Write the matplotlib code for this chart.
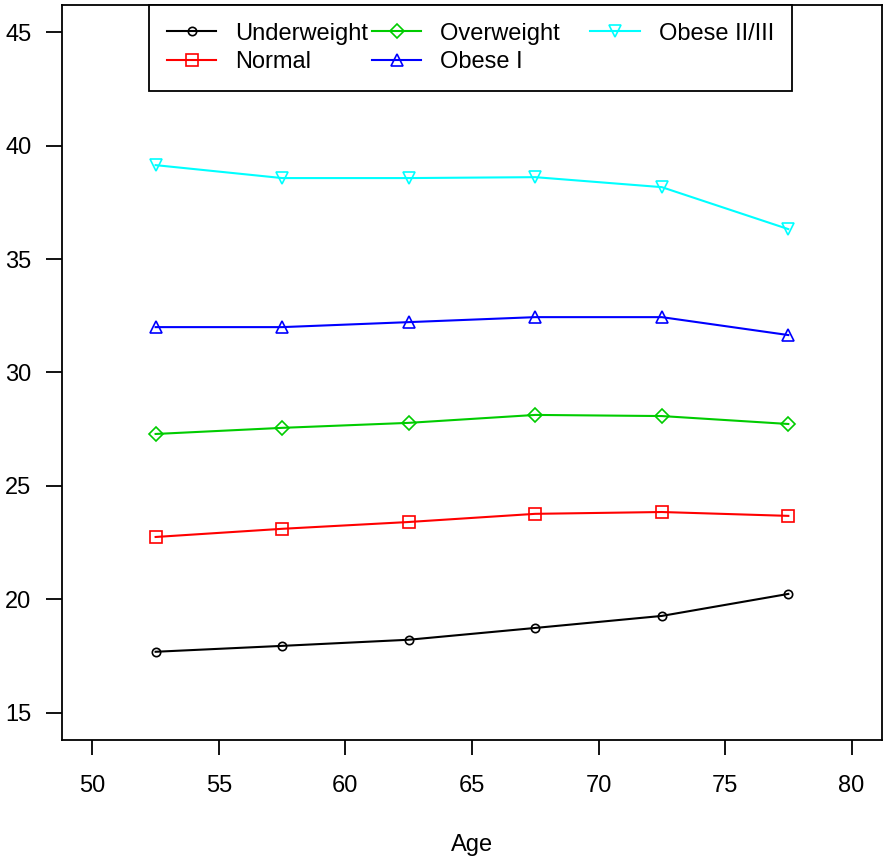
import matplotlib
matplotlib.use('Agg')
import matplotlib.pyplot as plt

plt.rcParams['font.family'] = ['Liberation Sans', 'DejaVu Sans']

# age group midpoints and mean BMI by weight class
age = [52.5, 57.5, 62.5, 67.5, 72.5, 77.5]
underweight = [17.69, 17.95, 18.22, 18.74, 19.27, 20.24]
normal = [22.75, 23.11, 23.41, 23.77, 23.85, 23.68]
overweight = [27.29, 27.56, 27.78, 28.13, 28.08, 27.73]
obese1 = [32.0, 32.0, 32.22, 32.44, 32.44, 31.65]
obese23 = [39.14, 38.57, 38.57, 38.61, 38.17, 36.32]

labels = ['Underweight', 'Normal', 'Overweight', 'Obese I', 'Obese II/III']
colors = ['black', 'red', '#00cc00', 'blue', 'cyan']
markers = ['o', 's', 'D', '^', 'v']
sizes = [6, 8, 7, 9, 9]

fig = plt.figure(figsize=(8.84, 8.57), dpi=100)
ax = fig.add_axes([0.0701, 0.1365, 0.9276, 0.8577])

series = [underweight, normal, overweight, obese1, obese23]
for ys, lab, c, m, s in zip(series, labels, colors, markers, sizes):
    ax.plot(age, ys, color=c, marker=m, markersize=s, markerfacecolor='none',
            markeredgecolor=c, markeredgewidth=1.2, linewidth=1.5, label=lab)

ax.set_xlim(48.8, 81.2)
ax.set_ylim(13.8, 46.2)
ax.set_xticks([50, 55, 60, 65, 70, 75, 80])
ax.set_yticks([15, 20, 25, 30, 35, 40, 45])
ax.tick_params(axis='x', length=11, width=1.3, pad=14, labelsize=17)
ax.tick_params(axis='y', length=11.5, width=1.3, pad=10.5, labelsize=17)
ax.set_xlabel('Age', fontsize=17, labelpad=27)
for sp in ax.spines.values():
    sp.set_linewidth(1.3)

# R style legend: equal-width columns, so pad the middle column label
handles, _ = ax.get_legend_handles_labels()
leg_labels = ['Underweight', 'Normal', 'Overweight    ', 'Obese I', 'Obese II/III']
leg = ax.legend(handles, leg_labels, loc='upper center', bbox_to_anchor=(0.498, 1.0),
                ncol=3, fontsize=17, frameon=True, fancybox=False,
                edgecolor='black', borderaxespad=0, handlelength=2.1,
                columnspacing=0.15, labelspacing=0.28, handletextpad=0.8,
                borderpad=0.75)
leg.get_frame().set_linewidth(1.3)
leg.get_frame().set_alpha(1)

fig.savefig('out.png', dpi=100)
